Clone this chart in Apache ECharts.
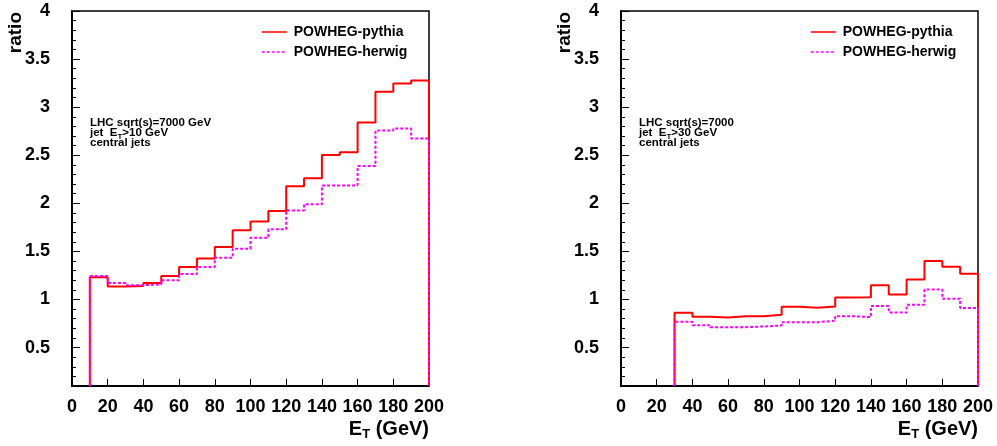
<!DOCTYPE html>
<html>
<head>
<meta charset="utf-8">
<script src="https://cdn.jsdelivr.net/npm/echarts@6/dist/echarts.min.js"></script>
<style>
  html, body { margin: 0; padding: 0; background: #fff; }
  #chart { width: 997px; height: 446px; }
</style>
</head>
<body>
<div id="chart"></div>
<script>
// Bin edges (GeV) for the two jet-ET thresholds
const edgesLeft = [10, 20, 30, 40, 50, 60, 70, 80, 90, 100, 110, 120, 130, 140, 150, 160, 170, 180, 190, 200];
const edgesRight = [30, 40, 50, 60, 70, 80, 90, 100, 110, 120, 130, 140, 150, 160, 170, 180, 190, 200];

// Ratio per bin, ET > 10 GeV
const pythiaLeft = [1.232, 1.135, 1.14, 1.17, 1.243, 1.337, 1.427, 1.545, 1.72, 1.81, 1.92, 2.177, 2.26, 2.503, 2.53, 2.84, 3.16, 3.245, 3.278];
const herwigLeft = [1.243, 1.17, 1.149, 1.156, 1.201, 1.264, 1.337, 1.434, 1.528, 1.642, 1.729, 1.924, 1.99, 2.184, 2.187, 2.389, 2.757, 2.778, 2.674];

// Ratio per bin, ET > 30 GeV
const pythiaRight = [0.861, 0.819, 0.8125, 0.826, 0.826, 0.84, 0.924, 0.913, 0.927, 1.021, 1.024, 1.149, 1.052, 1.208, 1.399, 1.34, 1.267];
const herwigRight = [0.767, 0.733, 0.712, 0.712, 0.719, 0.729, 0.764, 0.764, 0.778, 0.826, 0.816, 0.931, 0.865, 0.944, 1.104, 1.007, 0.91];

// Axis ticks
const xTicks = [0, 20, 40, 60, 80, 100, 120, 140, 160, 180, 200];
const yTicks = [0.5, 1, 1.5, 2, 2.5, 3, 3.5, 4];
const yMinorTicks = [0.2, 0.3, 0.4, 0.6, 0.7, 0.8, 0.9, 1.1, 1.2, 1.3, 1.4, 1.6, 1.7, 1.8, 1.9,
  2.1, 2.2, 2.3, 2.4, 2.6, 2.7, 2.8, 2.9, 3.1, 3.2, 3.3, 3.4, 3.6, 3.7, 3.8, 3.9];

const Y_MIN = 0.1, Y_MAX = 4;
const FONT = '"Liberation Sans", Arial, Helvetica, sans-serif';
const RED = '#ff0000', MAGENTA = '#ff00ff';

// Outline of a histogram: rises from the frame floor, steps across each bin, drops back down
function histPath(edges, vals) {
  const pts = [[edges[0], Y_MIN]];
  for (let i = 0; i < vals.length; i++) {
    pts.push([edges[i], vals[i]]);
    pts.push([edges[i + 1], vals[i]]);
  }
  pts.push([edges[edges.length - 1], Y_MIN]);
  return pts;
}

const gridW = 357, gridH = 375, gridTop = 11;
const grids = [
  { left: 72, top: gridTop, width: gridW, height: gridH, show: true, borderColor: '#000', borderWidth: 1.5, backgroundColor: '#fff' },
  { left: 621, top: gridTop, width: gridW, height: gridH, show: true, borderColor: '#000', borderWidth: 1.5, backgroundColor: '#fff' }
];

function xAxis(gi) {
  return {
    type: 'value', gridIndex: gi, min: 0, max: 200, interval: 20,
    axisLine: { show: true, onZero: false, lineStyle: { color: '#000', width: 2 } },
    axisTick: { show: true, inside: true, length: 7, lineStyle: { color: '#000', width: 1 } },
    axisLabel: { show: true, margin: 12, color: '#000', fontFamily: FONT, fontWeight: 'bold', fontSize: 18,
      customValues: xTicks, showMinLabel: true, showMaxLabel: true },
    splitLine: { show: false }
  };
}
function yAxisMajor(gi) {
  return {
    type: 'value', gridIndex: gi, min: Y_MIN, max: Y_MAX,
    axisLine: { show: true, onZero: false, lineStyle: { color: '#000', width: 2 } },
    axisTick: { show: true, inside: true, length: 8, customValues: yTicks, lineStyle: { color: '#000', width: 1 } },
    axisLabel: { show: true, margin: 22, color: '#000', fontFamily: FONT, fontWeight: 'bold', fontSize: 18, customValues: yTicks },
    splitLine: { show: false }
  };
}
function yAxisMinor(gi) {
  return {
    type: 'value', gridIndex: gi, min: Y_MIN, max: Y_MAX, position: 'left',
    axisLine: { show: false },
    axisTick: { show: true, inside: true, length: 4, customValues: yMinorTicks, lineStyle: { color: '#000', width: 1 } },
    axisLabel: { show: false },
    splitLine: { show: false }
  };
}

function histSeries(name, color, dashed, xi, yi, edges, vals) {
  return {
    name, type: 'line', xAxisIndex: xi, yAxisIndex: yi,
    data: histPath(edges, vals),
    showSymbol: false, symbol: 'none', animation: false, clip: true,
    lineStyle: { color, width: 2, type: dashed ? [3, 2] : 'solid' },
    itemStyle: { color }
  };
}

// Line-only legend keys (marker hidden)
function legend(left) {
  return {
    left, top: 25, padding: 0, orient: 'vertical', itemWidth: 25, itemHeight: 14, itemGap: 6, selectedMode: false,
    data: ['POWHEG-pythia', 'POWHEG-herwig'],
    itemStyle: { opacity: 0 },
    textStyle: { color: '#000', fontFamily: FONT, fontWeight: 'bold', fontSize: 14, padding: [0, 0, 0, 2] },
    lineStyle: { width: 1.5 }
  };
}

const annoRich = {
  b: { fontFamily: FONT, fontWeight: 'bold', fontSize: 11.5, color: '#000', lineHeight: 10 },
  s: { fontFamily: FONT, fontWeight: 'bold', fontSize: 8, color: '#000', lineHeight: 10, padding: [7, 0, 0, 0] }
};
function annotation(x, lines) {
  return {
    type: 'text', left: x, top: 117, z: 10,
    style: { text: lines.join('\n'), rich: annoRich, fill: '#000', font: 'bold 11.5px ' + FONT }
  };
}

const titleRich = {
  e: { fontFamily: FONT, fontWeight: 'bold', fontSize: 20, color: '#000', lineHeight: 26, verticalAlign: 'top' },
  t: { fontFamily: FONT, fontWeight: 'bold', fontSize: 13, color: '#000', lineHeight: 26, verticalAlign: 'top', padding: [9, 0, 0, 0] }
};
function xTitle(right) {
  return {
    type: 'text', right, top: 419, z: 10,
    style: { text: '{e|E}{t|T}{e| (GeV)}', rich: titleRich }
  };
}
function yTitle(x) {
  return {
    type: 'text', x, y: 12, rotation: Math.PI / 2, z: 10,
    style: { text: 'ratio', fill: '#000', font: 'bold 19px ' + FONT, align: 'right', verticalAlign: 'middle' }
  };
}

const option = {
  backgroundColor: '#fff',
  animation: false,
  grid: grids,
  xAxis: [xAxis(0), xAxis(1)],
  yAxis: [yAxisMajor(0), yAxisMinor(0), yAxisMajor(1), yAxisMinor(1)],
  legend: [legend(261), legend(810)],
  series: [
    histSeries('POWHEG-pythia', RED, false, 0, 0, edgesLeft, pythiaLeft),
    histSeries('POWHEG-herwig', MAGENTA, true, 0, 0, edgesLeft, herwigLeft),
    histSeries('POWHEG-pythia', RED, false, 1, 2, edgesRight, pythiaRight),
    histSeries('POWHEG-herwig', MAGENTA, true, 1, 2, edgesRight, herwigRight)
  ],
  graphic: [
    annotation(90, ['{b|LHC sqrt(s)=7000 GeV}', '{b|jet  E}{s|T}{b|>10 GeV}', '{b|central jets}']),
    annotation(639, ['{b|LHC sqrt(s)=7000}', '{b|jet  E}{s|T}{b|>30 GeV}', '{b|central jets}']),
    xTitle(997 - 429),
    xTitle(997 - 978),
    yTitle(16),
    yTitle(565)
  ]
};

const chart = echarts.init(document.getElementById('chart'), null, { renderer: 'canvas' });
chart.setOption(option);
</script>
</body>
</html>
